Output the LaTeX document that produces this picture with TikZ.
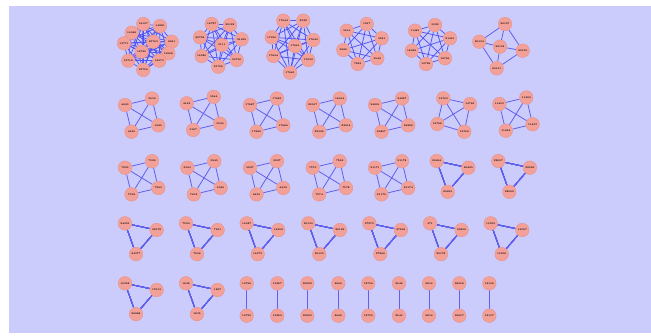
\documentclass[tikz,border=0pt]{standalone}
\usepackage{tikz}
\usetikzlibrary{calc}
\definecolor{bgblue}{RGB}{204,204,252}
\definecolor{nodefill}{RGB}{242,160,152}
\definecolor{nodeline}{RGB}{230,146,140}
\definecolor{edgeblue}{RGB}{96,96,236}
\pgfdeclarelayer{back}
\pgfdeclarelayer{bg}
\pgfsetlayers{back,bg,main}
% all edges of a clique: node prefix, size
\newcommand{\clique}[2]{%
  \foreach \i in {1,...,#2}{\foreach \j in {1,...,#2}{%
    \ifnum\i<\j \draw[edge] (#1\i) -- (#1\j);\fi}}}

\begin{document}
\begin{tikzpicture}[x=1pt,y=-1pt,
  vtx/.style={circle, fill=nodefill, draw=nodeline, line width=0.4pt, minimum size=13.6pt, inner sep=0pt, font=\fontsize{2.4}{2.4}\selectfont\bfseries},
  edge/.style={draw=edgeblue, line width=0.8pt},
  dense/.style={draw=edgeblue!85!blue, line width=0.75pt}
]
\useasboundingbox (0,0) rectangle (651,335);
\begin{pgfonlayer}{back}
  \fill[white] (0,0) rectangle (651,335);
  \fill[bgblue] (9,6) rectangle (651,333);
\end{pgfonlayer}

% row 1: large cliques
\node[vtx] (a1) at (143.3,24) {19107};
\node[vtx] (a2) at (160,26) {14290};
\node[vtx] (a3) at (131.7,32.7) {14048};
\node[vtx] (a4) at (171.7,41.7) {8941};
\node[vtx] (a5) at (153.3,41.7) {23763};
\node[vtx] (a6) at (124,43.3) {13771};
\node[vtx] (a7) at (141.7,51.7) {12745};
\node[vtx] (a8) at (168.3,53.3) {13808};
\node[vtx] (a9) at (128.3,60.7) {19716};
\node[vtx] (a10) at (159.3,60.7) {19973};
\node[vtx] (a11) at (143.3,70) {23755};

\node[vtx] (p1) at (211.7,24) {16787};
\node[vtx] (p2) at (230,25) {20122};
\node[vtx] (p3) at (200,37.3) {20758};
\node[vtx] (p4) at (241.7,39.3) {21995};
\node[vtx] (p5) at (221.7,45) {3111};
\node[vtx] (p6) at (201.7,56) {14380};
\node[vtx] (p7) at (236.7,60) {20730};
\node[vtx] (p8) at (218.3,66.7) {21705};

\node[vtx] (q1) at (283.3,20.7) {17644};
\node[vtx] (q2) at (303.3,20.7) {2322};
\node[vtx] (q3) at (271.7,37.3) {17630};
\node[vtx] (q4) at (313.3,40) {17640};
\node[vtx] (q5) at (295,46) {17641};
\node[vtx] (q6) at (273.3,56) {17644};
\node[vtx] (q7) at (308.3,60) {17639};
\node[vtx] (q8) at (290,72.7) {17643};

\node[vtx] (r1) at (346.7,30.7) {3414};
\node[vtx] (r2) at (366.7,24) {1597};
\node[vtx] (r3) at (381.7,38.3) {3421};
\node[vtx] (r4) at (343.3,50) {3880};
\node[vtx] (r5) at (377.3,58.3) {3549};
\node[vtx] (r6) at (357.7,64) {7245};

\node[vtx] (s1) at (415,30.7) {11481};
\node[vtx] (s2) at (435,25) {3322};
\node[vtx] (s3) at (450,38.3) {21431};
\node[vtx] (s4) at (411.7,50.7) {18058};
\node[vtx] (s5) at (445,58.3) {18796};
\node[vtx] (s6) at (426,64) {10726};

\node[vtx] (t1) at (505,24) {20157};
\node[vtx] (t2) at (479.3,41.7) {20134};
\node[vtx] (t3) at (500,46.7) {20132};
\node[vtx] (t4) at (522.7,50.7) {20139};
\node[vtx] (t5) at (496.7,68.3) {20131};

% rows 2 and 3: four-cliques
\foreach \g/\x/\y/\la/\lb/\lc/\ld in {
    b/125/105/4403/3530/1985/4450, c/186.7/103.3/4142/3544/3560/3187,
    d/250/105/17687/17683/17686/17689, e/312.7/105/22017/18614/22014/22399,
    f/375/105/24201/24227/24228/24207, h/499.3/104/11493/11499/11497/11498,
    k/125/167.7/7293/7399/7293/7392, l/187.3/167.7/5363/5565/5366/7612,
    m/250/167.7/5827/5827/6439/6435, n/312.7/167.7/7570/7598/7578/7574,
    o/375/167.7/21171/21178/21174/21179}{
  \node[vtx] (\g1) at (\x,\y) {\la};
  \node[vtx] (\g2) at (\x+27,\y-6.5) {\lb};
  \node[vtx] (\g3) at (\x+33.3,\y+20.3) {\lc};
  \node[vtx] (\g4) at (\x+6.5,\y+26.7) {\ld};
}
\node[vtx] (g1) at (443.3,98.3) {19763};
\node[vtx] (g2) at (470,104) {19765};
\node[vtx] (g3) at (437.3,124) {19768};
\node[vtx] (g4) at (464.3,131.7) {19762};

% rows 3, 4 and 5: triangles
\foreach \g/\x/\y/\la/\lb/\lc in {
    u/436.7/161/20494/20495/20493, v/498.3/161/22097/22095/22099,
    w1/125/223.3/24335/24378/24377, w2/186/223.3/7550/7551/7556,
    w3/246.7/223.3/14387/14392/14373, w4/308.3/223.3/20130/20129/20135,
    w5/369.3/223.3/27270/27265/27266, w6/430/223.3/371/20200/20178,
    w7/490.7/223.3/13309/13307/13306,
    x1/125/283.3/16358/17613/26268, x2/186/283.3/1838/1897/1835}{
  \node[vtx] (\g-1) at (\x,\y) {\la};
  \node[vtx] (\g-2) at (\x+31.6,\y+6.7) {\lb};
  \node[vtx] (\g-3) at (\x+11,\y+30.8) {\lc};
}

% row 5: pairs
\foreach \g/\x/\la/\lb in {
    z1/246.7/10756/10755, z2/277.3/13287/13289, z3/307.3/20822/20823,
    z4/338.3/2669/2668, z5/368.3/12736/12735, z6/399/2542/2543,
    z7/429/9814/9816, z8/459.3/26558/26557, z9/489.3/12138/12137}{
  \node[vtx] (\g-1) at (\x,283.3) {\la};
  \node[vtx] (\g-2) at (\x,315.7) {\lb};
}

\begin{pgfonlayer}{bg}
  \begin{scope}[edge/.style=dense]
    \clique{a}{11}
    \clique{p}{8}
    \clique{q}{8}
    \clique{r}{6}
    \clique{s}{6}
  \end{scope}
  \foreach \i/\j in {1/2,1/3,1/4,2/3,3/4,2/5,3/5,4/5}
    \draw[edge] (t\i) -- (t\j);
  \foreach \g in {b,c,d,e,f,g,h,k,l,m,n,o}
    \clique{\g}{4}
  \foreach \g in {u,v,w1,w2,w3,w4,w5,w6,w7,x1,x2}{
    \draw[edge] (\g-1) -- (\g-2) -- (\g-3) -- (\g-1);
  }
  \foreach \g in {z1,z2,z3,z4,z5,z6,z7,z8,z9}
    \draw[edge] (\g-1) -- (\g-2);
\end{pgfonlayer}
\end{tikzpicture}
\end{document}
